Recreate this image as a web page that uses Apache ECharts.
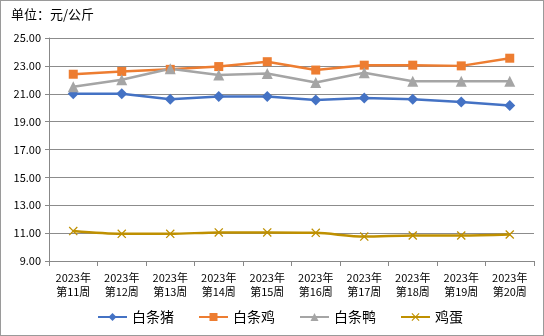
<!DOCTYPE html>
<html><head><meta charset="utf-8">
<script src="https://cdn.jsdelivr.net/npm/echarts@6/dist/echarts.min.js"></script>
<style>html,body{margin:0;padding:0;background:#fff}#c{width:544px;height:336px;box-sizing:border-box;border:1px solid #9a9a9a}</style>
</head><body><div id="c"></div>
<script>
const categories = ['2023年\n第11周','2023年\n第12周','2023年\n第13周','2023年\n第14周','2023年\n第15周','2023年\n第16周','2023年\n第17周','2023年\n第18周','2023年\n第19周','2023年\n第20周'];
const pork = [21.0, 21.0, 20.6, 20.8, 20.8, 20.55, 20.7, 20.6, 20.4, 20.15];
const chicken = [22.4, 22.6, 22.75, 22.95, 23.3, 22.7, 23.05, 23.05, 23.0, 23.55];
const duck = [21.5, 22.0, 22.8, 22.35, 22.45, 21.8, 22.5, 21.9, 21.9, 21.9];
const egg = [11.15, 10.95, 10.95, 11.05, 11.05, 11.02, 10.75, 10.83, 10.83, 10.9];
const seriesNames = ['白条猪','白条鸡','白条鸭','鸡蛋'];
const yTicks = {min: 9, max: 25, interval: 2};

const font = '"Noto Sans CJK SC", "Noto Sans", sans-serif';
const crossPath = 'path://M0,1L1,0L5,4L9,0L10,1L6,5L10,9L9,10L5,6L1,10L0,9L4,5Z';
const chart = echarts.init(document.getElementById('c'));
function mk(name, data, color, symbol, size, smooth){
  return {name, type:'line', data, smooth: smooth||false, symbol, symbolSize: size,
    lineStyle:{color, width:2.5}, itemStyle:{color}, emphasis:{disabled:true}, z: 3};
}
chart.setOption({
  animation:false,
  textStyle:{fontFamily:font},
  title:{text:'单位：元/公斤', left:10, top:7, padding:0, textStyle:{fontSize:13, fontWeight:'normal', color:'#000', fontFamily:font}},
  grid:{left:48, right:9, top:37, bottom:74},
  legend:{left:96, top:309, padding:0, itemWidth:29, itemHeight:10, itemGap:24,
    textStyle:{fontSize:14, color:'#000', fontFamily:font}, data:seriesNames},
  xAxis:{type:'category', data:categories, boundaryGap:true,
    axisLine:{lineStyle:{color:'#888', width:1}},
    axisTick:{show:true, length:5, lineStyle:{color:'#888'}},
    axisLabel:{fontSize:11, color:'#000', margin:10, lineHeight:14, fontFamily:font, interval:0}},
  yAxis:{type:'value', min:yTicks.min, max:yTicks.max, interval:yTicks.interval,
    axisLine:{show:true, lineStyle:{color:'#888'}},
    axisTick:{show:true, length:4, lineStyle:{color:'#888'}},
    splitLine:{lineStyle:{color:'#8c8c8c', width:1}},
    axisLabel:{fontSize:11, color:'#000', margin:8, fontFamily:font, formatter:v=>v.toFixed(2)}},
  series:[
    mk(seriesNames[0], pork, '#4472C4', 'diamond', 11),
    mk(seriesNames[1], chicken, '#ED7D31', 'rect', 9),
    mk(seriesNames[2], duck, '#A5A5A5', 'triangle', 11),
    mk(seriesNames[3], egg, '#BF9000', crossPath, 9, 0.3)
  ]
});
</script></body></html>
